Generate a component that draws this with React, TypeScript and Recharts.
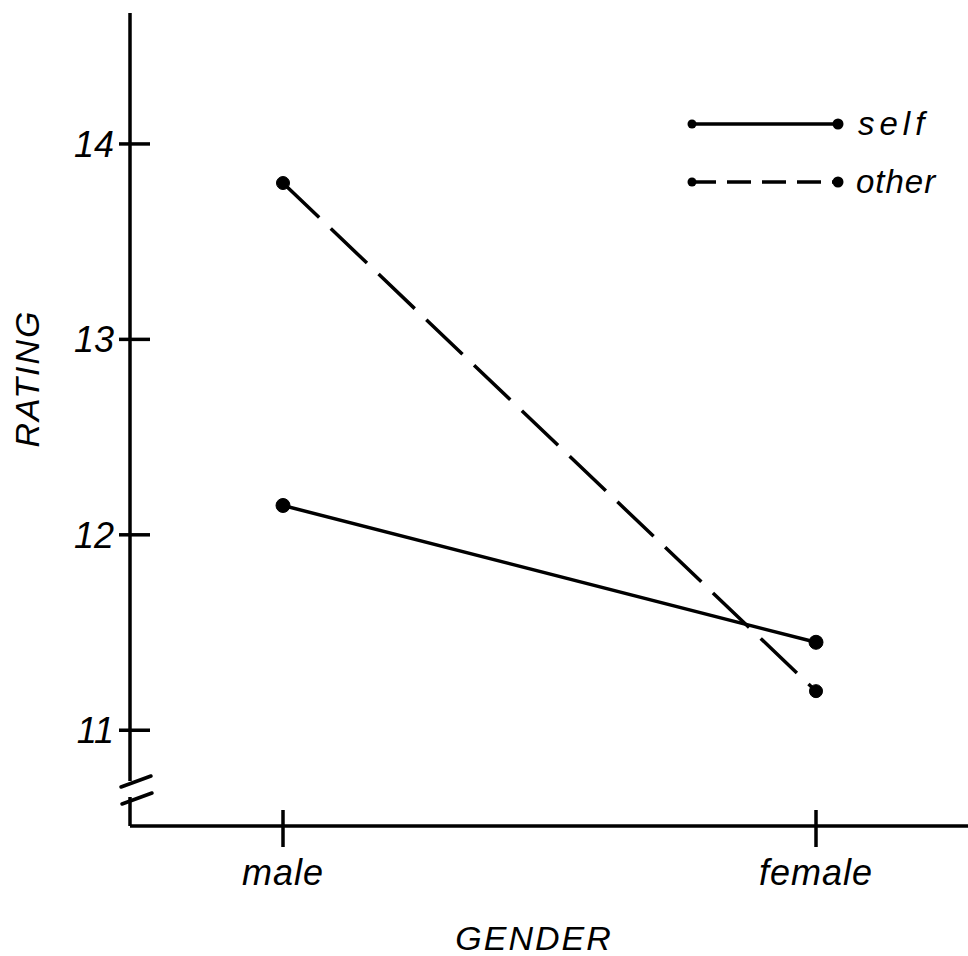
import React from 'react';
import { LineChart, Line, XAxis, YAxis, Label } from 'recharts';

const categories = ['male', 'female'];
const selfValues = [12.15, 11.45];
const otherValues = [13.8, 11.2];
const yTicks = [11, 12, 13, 14];
const seriesNames = ['self', 'other'];
const yDomain = [10.51, 14.67];

const data = categories.map((c, i) => ({ gender: c, self: selfValues[i], other: otherValues[i] }));

const FONT = '"Liberation Sans", Arial, sans-serif';

const YTick = (props: any) => {
  const { x, y, payload } = props;
  return (
    <g>
      <line x1={x - 11} x2={x + 20} y1={y} y2={y} stroke="#000" strokeWidth={3.5} />
      <text x={x - 16} y={y + 13} textAnchor="end" fontFamily={FONT} fontStyle="italic" fontSize={36} fill="#000">
        {payload.value}
      </text>
    </g>
  );
};

const XTick = (props: any) => {
  const { x, y, payload } = props;
  return (
    <g>
      <line x1={x} x2={x} y1={y - 16} y2={y + 21} stroke="#000" strokeWidth={3.5} />
      <text x={x} y={y + 59} textAnchor="middle" fontFamily={FONT} fontStyle="italic" fontSize={36} letterSpacing={1} fill="#000">
        {payload.value}
      </text>
    </g>
  );
};

export default function App() {
  return (
    <div style={{ position: 'absolute', left: 0, top: 0, width: 968, height: 956, background: '#fff' }}>
      <LineChart width={968} height={956} data={data} margin={{ top: 13, right: 0, left: 70, bottom: 100 }}>
        <XAxis
          dataKey="gender"
          padding={{ left: 153, right: 152 }}
          axisLine={{ stroke: '#000', strokeWidth: 3.5 }}
          tickLine={false}
          tickSize={0}
          tickMargin={0}
          tick={<XTick />}
          height={30}
        >
          <Label
            content={(p: any) => {
              const vb = p.viewBox;
              return (
                <text x={vb.x + vb.width / 2 - 15} y={vb.y + 124} textAnchor="middle" fontFamily={FONT} fontStyle="italic" fontSize={34} letterSpacing={2} fill="#000">
                  GENDER
                </text>
              );
            }}
          />
        </XAxis>
        <YAxis
          type="number"
          domain={yDomain}
          ticks={yTicks}
          width={60}
          axisLine={{ stroke: '#000', strokeWidth: 3.5 }}
          tickLine={false}
          tickSize={0}
          tickMargin={0}
          tick={<YTick />}
          allowDataOverflow
        >
          <Label
            content={(p: any) => {
              const vb = p.viewBox;
              const cx = vb.x - 43;
              const cy = vb.y + vb.height / 2 - 41;
              return (
                <text x={cx} y={cy} transform={`rotate(-90 ${cx} ${cy})`} textAnchor="middle" dominantBaseline="central" fontFamily={FONT} fontStyle="italic" fontSize={34} letterSpacing={2} fill="#000">
                  RATING
                </text>
              );
            }}
          />
        </YAxis>
        <Line
          type="linear"
          dataKey="self"
          name="self"
          stroke="#000"
          strokeWidth={3.5}
          dot={{ r: 7, fill: '#000', stroke: '#000', strokeWidth: 1 }}
          isAnimationActive={false}
        />
        <Line
          type="linear"
          dataKey="other"
          name="other"
          stroke="#000"
          strokeWidth={3.5}
          strokeDasharray="50 16"
          dot={{ r: 6.5, fill: '#000', stroke: '#000', strokeWidth: 1, strokeDasharray: '' }}
          isAnimationActive={false}
        />
      </LineChart>
      <svg width={968} height={956} style={{ position: 'absolute', left: 0, top: 0, pointerEvents: 'none' }}>
        <rect x={123} y={781} width={14} height={16} fill="#fff" />
        <line x1={121} y1={787} x2={151} y2={776} stroke="#000" strokeWidth={3.5} strokeLinecap="round" />
        <line x1={122} y1={804} x2={152} y2={793} stroke="#000" strokeWidth={3.5} strokeLinecap="round" />
        <g transform="translate(680,100)">
          {seriesNames.map((name, i) => {
            const ly = i === 0 ? 24 : 82;
            return (
              <g key={name}>
                <line x1={12} x2={158} y1={ly} y2={ly} stroke="#000" strokeWidth={3.5} strokeDasharray={i === 0 ? undefined : '24 11'} />
                <circle cx={12} cy={ly} r={4.5} fill="#000" />
                <circle cx={158} cy={ly} r={5.5} fill="#000" />
                <text x={i === 0 ? 178 : 176} y={ly + 11} fontFamily={FONT} fontStyle="italic" fontSize={33} letterSpacing={i === 0 ? 5 : 1} fill="#000">
                  {name}
                </text>
              </g>
            );
          })}
        </g>
      </svg>
    </div>
  );
}
